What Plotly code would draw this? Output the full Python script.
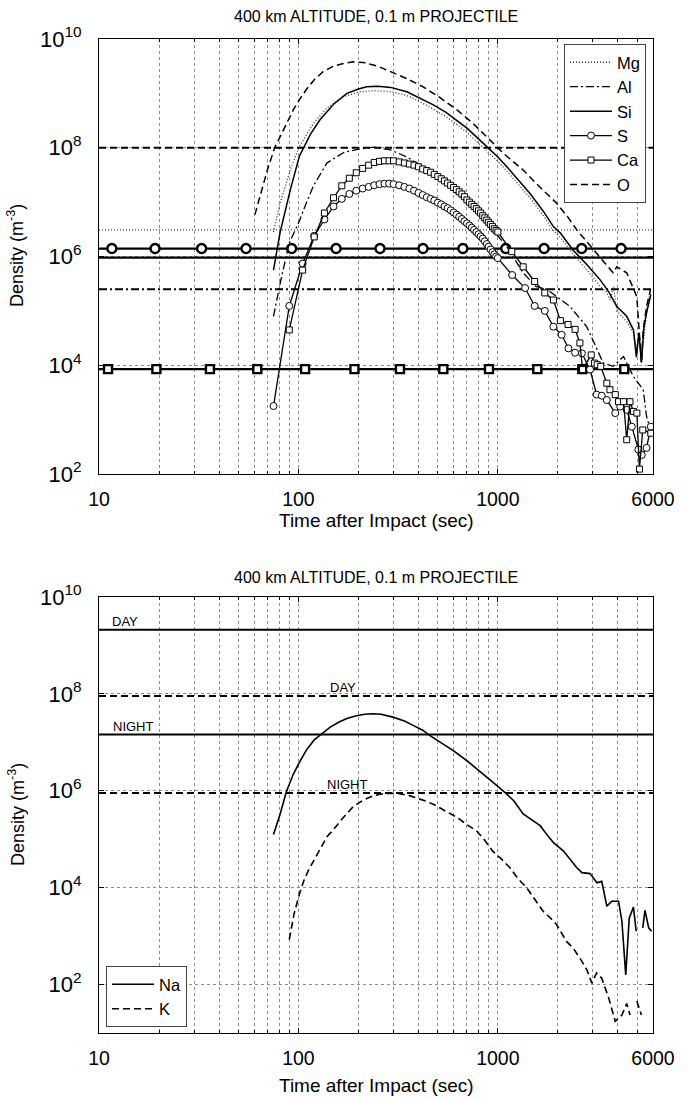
import math
import plotly.graph_objects as go

# ---------------- data: top panel (400 km, 0.1 m projectile) ----------------
t_mg = [75, 81, 91, 101, 119, 139, 168, 204, 246, 290, 350, 400, 475, 550, 622, 700, 846, 1000, 1110, 1300,
        1450, 1700, 1900, 2060, 2380, 2800, 3260, 3500, 3650, 3800, 3950, 4430, 4790, 4950, 5100, 5250, 5400, 5600, 5850]
log_mg = [6.45, 6.98, 7.59, 8.02, 8.45, 8.73, 8.94, 9.03, 9.05, 9.03, 8.96, 8.86, 8.71, 8.57, 8.43, 8.28, 8.00, 7.75,
          7.57, 7.27, 7.08, 6.74, 6.47, 6.35, 6.05, 5.75, 5.45, 5.35, 5.20, 5.45, 5.00, 4.80, 4.60, 4.30, 4.55, 4.20,
          4.50, 5.10, 5.35]

t_al = [75, 82, 90, 101, 110, 119, 139, 170, 204, 240, 290, 350, 422, 520, 622, 750, 914, 1110, 1340, 1550, 1760,
        2000, 2300, 2790, 3380, 3780, 4270, 4790, 5360, 5570, 5830]
log_al = [4.90, 5.60, 6.25, 6.65, 7.00, 7.30, 7.72, 7.92, 7.98, 8.01, 7.96, 7.83, 7.65, 7.40, 7.16, 6.88, 6.55, 6.18,
          5.70, 5.45, 5.40, 5.25, 5.08, 4.71, 4.04, 3.98, 4.16, 3.79, 3.55, 3.06, 2.81]

t_si = [75, 81, 91, 101, 115, 128, 150, 175, 200, 220, 250, 290, 350, 400, 475, 550, 622, 700, 846, 1000, 1110,
        1300, 1450, 1700, 1900, 2060, 2380, 2800, 3260, 3600, 3950, 4430, 4790, 4950, 5100, 5250, 5400, 5600, 5850]
log_si = [5.75, 6.45, 7.22, 7.84, 8.25, 8.51, 8.80, 9.00, 9.08, 9.12, 9.13, 9.11, 9.03, 8.93, 8.79, 8.65, 8.51, 8.36,
          8.08, 7.83, 7.65, 7.35, 7.16, 6.82, 6.55, 6.43, 6.12, 5.85, 5.57, 5.35, 5.08, 4.90, 4.65, 4.15, 4.60, 4.05,
          4.70, 5.00, 5.30]

t_s = [75, 90, 105, 120, 135, 150, 165, 180, 195, 210, 225, 240, 255, 270, 285, 300, 320, 340, 360, 380, 400, 420,
       440, 460, 480, 500, 520, 540, 560, 580, 600, 620, 640, 660, 680, 700, 720, 740, 760, 780, 800, 820, 840, 860,
       880, 900, 920, 940, 960, 980, 1000, 1180, 1370, 1530, 1720, 1900, 2090, 2260, 2440, 2640, 2900, 3130, 3320,
       3520, 3880, 4110, 4430, 4700, 5070, 5270, 5570, 5850]
log_s = [3.25, 5.09, 5.87, 6.38, 6.68, 6.92, 7.06, 7.15, 7.21, 7.25, 7.28, 7.31, 7.33, 7.34, 7.34, 7.33, 7.31, 7.28,
         7.25, 7.21, 7.17, 7.13, 7.09, 7.06, 7.03, 6.99, 6.96, 6.92, 6.89, 6.85, 6.81, 6.77, 6.73, 6.69, 6.65, 6.61,
         6.57, 6.53, 6.49, 6.45, 6.41, 6.37, 6.33, 6.28, 6.23, 6.18, 6.13, 6.08, 6.04, 6.00, 5.97, 5.66, 5.42, 5.09,
         5.00, 4.71, 4.56, 4.31, 4.23, 4.22, 3.92, 3.46, 3.44, 3.36, 3.12, 3.24, 3.18, 2.87, 2.45, 2.35, 2.48, 2.87]

t_ca = [90, 105, 120, 135, 150, 165, 180, 195, 210, 225, 240, 255, 270, 285, 300, 320, 340, 360, 380, 400, 420, 440,
        460, 480, 500, 520, 540, 560, 580, 600, 620, 640, 660, 680, 700, 720, 740, 760, 780, 800, 820, 840, 860, 880,
        900, 920, 940, 960, 980, 1000, 1175, 1340, 1530, 1720, 1900, 2060, 2250, 2440, 2580, 2660, 2940, 3050, 3150,
        3280, 3520, 3650, 3880, 4030, 4270, 4430, 4600, 4790, 4980, 5130, 5330, 5850]
log_ca = [4.65, 5.75, 6.36, 6.80, 7.08, 7.30, 7.44, 7.54, 7.62, 7.68, 7.73, 7.75, 7.76, 7.76, 7.76, 7.74, 7.72, 7.70,
          7.68, 7.65, 7.61, 7.58, 7.55, 7.51, 7.47, 7.43, 7.39, 7.35, 7.31, 7.27, 7.23, 7.19, 7.15, 7.10, 7.04, 7.00,
          6.96, 6.92, 6.88, 6.84, 6.80, 6.75, 6.71, 6.67, 6.63, 6.59, 6.55, 6.51, 6.48, 6.45, 6.09, 5.81, 5.54, 5.33,
          5.20, 4.82, 4.75, 4.66, 4.41, 3.92, 4.19, 4.04, 4.01, 3.98, 3.67, 3.55, 3.46, 3.33, 3.33, 2.63, 3.33, 3.15,
          3.12, 2.09, 2.81, 2.75]

t_o = [60.5, 66, 70, 76, 82, 87, 95, 101, 110, 120, 133, 150, 168, 188, 211, 250, 288, 350, 422, 500, 622, 750, 914,
       1064, 1340, 1600, 1972, 2250, 2489, 2900, 3258, 3500, 3784, 3948, 4430, 4977, 5250, 5360, 5566, 5830]
log_o = [6.77, 7.25, 7.60, 8.00, 8.25, 8.45, 8.72, 8.88, 9.08, 9.25, 9.40, 9.50, 9.55, 9.58, 9.57, 9.50, 9.40, 9.27,
         9.12, 8.95, 8.70, 8.45, 8.14, 7.90, 7.59, 7.30, 6.98, 6.72, 6.49, 6.20, 6.00, 5.85, 5.70, 5.81, 5.70, 5.26,
         4.04, 4.65, 5.08, 5.39]

# ambient (background) densities, top panel
bg_mg, bg_al, bg_si, bg_s, bg_ca, bg_o = 3.1e6, 2.5e5, 9.5e5, 1.4e6, 8.5e3, 1.0e8
t_bg_s_marks = [11.6, 19.1, 32.7, 54.6, 92.5, 154.5, 256.6, 421.5, 668, 1096, 1706, 2634, 4150]
t_bg_ca_marks = [11.1, 19.4, 36, 62.2, 108, 191, 323, 533, 903, 1578, 2654, 4306]

# ---------------- data: bottom panel ----------------
t_na = [75, 81, 87, 94, 101, 110, 120, 130, 145, 160, 175, 195, 215, 237, 260, 298, 340, 376, 420, 457, 520, 598,
        700, 810, 950, 1110, 1205, 1340, 1510, 1630, 1760, 1900, 2130, 2300, 2490, 2640, 2900, 3140, 3320, 3520,
        3730, 4030, 4190, 4380, 4560, 4790, 4940, 5100, 5330, 5470, 5710, 5900]
log_na = [5.10, 5.52, 5.98, 6.33, 6.58, 6.85, 7.05, 7.17, 7.32, 7.42, 7.49, 7.55, 7.58, 7.59, 7.58, 7.52, 7.44, 7.35,
          7.25, 7.14, 6.99, 6.83, 6.62, 6.41, 6.17, 5.93, 5.79, 5.52, 5.38, 5.28, 5.10, 4.93, 4.76, 4.58, 4.41, 4.31,
          4.29, 4.10, 4.13, 3.62, 3.72, 3.72, 3.31, 2.20, 3.37, 3.60, 3.10, None, 3.17, 3.53, 3.17, 3.10]

t_k = [90, 95, 101, 107, 113, 119, 130, 139, 150, 168, 189, 210, 235, 256, 290, 323, 360, 407, 440, 480, 530, 600,
       645, 700, 783, 860, 940, 1050, 1150, 1260, 1395, 1540, 1690, 1830, 1970, 2210, 2390, 2640, 2800, 2960, 3130,
       3320, 3600, 3880, 4190, 4430, 4600, 4800, 4980, 5250]
log_k = [2.93, 3.45, 3.86, 4.17, 4.38, 4.55, 4.82, 5.05, 5.20, 5.45, 5.68, 5.80, 5.89, 5.93, 5.95, 5.94, 5.90, 5.83,
         5.78, 5.71, 5.62, 5.49, 5.41, 5.30, 5.17, 4.98, 4.76, 4.58, 4.41, 4.19, 4.00, 3.75, 3.51, 3.38, 3.24, 2.89,
         2.75, 2.48, 2.30, 2.03, 2.24, 2.13, 1.72, 1.24, 1.37, 1.61, 1.37, None, 1.66, 1.37]

na_day, na_night, k_day, k_night = 2.1e9, 1.45e7, 9.0e7, 9.0e5

x_span = [10, 6000]
title_text = "400 km ALTITUDE, 0.1 m PROJECTILE"

# ---------------- figure ----------------
FONT = "Liberation Sans, Arial, sans-serif"
W, H = 688, 1099


def dens(vals):
    return [None if v is None else 10 ** v for v in vals]


DASH = "7px,4px"
DASHDOT = "8px,3px,2px,3px"
DOT = "1px,2px"

fig = go.Figure()


def hline(xax, yax, val, dash, width, color="black"):
    fig.add_trace(go.Scatter(x=x_span, y=[val, val], mode="lines", xaxis=xax, yaxis=yax,
                             line=dict(color=color, width=width, dash=dash), showlegend=False, hoverinfo="skip"))


# ambient lines (top)
hline("x", "y", bg_mg, DOT, 1.3, "#444")
hline("x", "y", bg_al, DASHDOT, 1.8)
hline("x", "y", bg_si, "solid", 2.2)
hline("x", "y", bg_s, "solid", 2.2)
hline("x", "y", bg_ca, "solid", 2.2)
hline("x", "y", bg_o, DASH, 2.2)
fig.add_trace(go.Scatter(x=t_bg_s_marks, y=[bg_s] * len(t_bg_s_marks), mode="markers", xaxis="x", yaxis="y",
                         marker=dict(symbol="circle", size=9, color="white", line=dict(color="black", width=2.4)),
                         showlegend=False, hoverinfo="skip"))
fig.add_trace(go.Scatter(x=t_bg_ca_marks, y=[bg_ca] * len(t_bg_ca_marks), mode="markers", xaxis="x", yaxis="y",
                         marker=dict(symbol="square", size=8, color="white", line=dict(color="black", width=2.4)),
                         showlegend=False, hoverinfo="skip"))

# curves (top)
fig.add_trace(go.Scatter(x=t_mg, y=dens(log_mg), mode="lines", name="Mg", xaxis="x", yaxis="y",
                         line=dict(color="#333", width=1.3, dash=DOT)))
fig.add_trace(go.Scatter(x=t_al, y=dens(log_al), mode="lines", name="Al", xaxis="x", yaxis="y",
                         line=dict(color="black", width=1.3, dash=DASHDOT)))
fig.add_trace(go.Scatter(x=t_si, y=dens(log_si), mode="lines", name="Si", xaxis="x", yaxis="y",
                         line=dict(color="black", width=1.5)))
fig.add_trace(go.Scatter(x=t_s, y=dens(log_s), mode="lines+markers", name="S", xaxis="x", yaxis="y",
                         line=dict(color="black", width=1.3),
                         marker=dict(symbol="circle", size=7, color="white", line=dict(color="black", width=1))))
fig.add_trace(go.Scatter(x=t_ca, y=dens(log_ca), mode="lines+markers", name="Ca", xaxis="x", yaxis="y",
                         line=dict(color="black", width=1.3),
                         marker=dict(symbol="square", size=6, color="white", line=dict(color="black", width=1))))
fig.add_trace(go.Scatter(x=t_o, y=dens(log_o), mode="lines", name="O", xaxis="x", yaxis="y",
                         line=dict(color="black", width=1.5, dash=DASH)))

# bottom panel
hline("x2", "y2", na_day, "solid", 2.0)
hline("x2", "y2", na_night, "solid", 2.0)
hline("x2", "y2", k_day, DASH, 2.0)
hline("x2", "y2", k_night, DASH, 2.0)
fig.add_trace(go.Scatter(x=t_na, y=dens(log_na), mode="lines", name="Na", xaxis="x2", yaxis="y2", legend="legend2",
                         line=dict(color="black", width=1.6), connectgaps=False))
fig.add_trace(go.Scatter(x=t_k, y=dens(log_k), mode="lines", name="K", xaxis="x2", yaxis="y2", legend="legend2",
                         line=dict(color="black", width=1.6, dash=DASH), connectgaps=False))

# axes
x_dom = [99 / W, 653 / W]
top_dom = [1 - 474 / H, 1 - 39 / H]
bot_dom = [1 - 1033 / H, 1 - 597 / H]
minor_x = [20, 30, 40, 50, 60, 70, 80, 90, 200, 300, 400, 500, 600, 700, 800, 900, 2000, 3000, 4000, 5000]
GRID = "#8c8c8c"


def xaxis_cfg(anchor):
    return dict(type="log", domain=x_dom, anchor=anchor, range=[1, math.log10(6000)],
                tickmode="array", tickvals=[10, 100, 1000, 6000], ticktext=["10", "100", "1000", "6000"],
                showgrid=True, gridcolor=GRID, griddash="dot", gridwidth=1,
                minor=dict(tickmode="array", tickvals=minor_x, showgrid=True, gridcolor=GRID, griddash="dot",
                           gridwidth=1, ticks="inside", ticklen=3, tickcolor="black"),
                ticks="inside", ticklen=5, tickcolor="black", showline=True, linecolor="black", linewidth=1,
                mirror="ticks", zeroline=False, automargin=False, ticklabelstandoff=8,
                tickfont=dict(family=FONT, size=19.5, color="black"))


def yaxis_cfg(anchor, rng):
    vals = [1e2, 1e4, 1e6, 1e8, 1e10]
    return dict(type="log", anchor=anchor, range=rng, tickmode="array", tickvals=vals,
                ticktext=["10<sup>%d</sup>" % round(math.log10(v)) for v in vals],
                showgrid=True, gridcolor=GRID, griddash="dot", gridwidth=1,
                ticks="inside", ticklen=5, tickcolor="black", showline=True, linecolor="black", linewidth=1,
                mirror="ticks", zeroline=False, automargin=False, ticklabelstandoff=12,
                tickfont=dict(family=FONT, size=22, color="black"))


fig.update_layout(
    width=W, height=H, margin=dict(l=0, r=0, t=0, b=0),
    paper_bgcolor="white", plot_bgcolor="white",
    font=dict(family=FONT, color="black"),
    xaxis=xaxis_cfg("y"), yaxis=dict(yaxis_cfg("x", [2, 10]), domain=top_dom),
    xaxis2=xaxis_cfg("y2"), yaxis2=dict(yaxis_cfg("x2", [1, 10]), domain=bot_dom),
    legend=dict(x=646 / W, xanchor="right", y=1 - 44 / H, yanchor="top", bgcolor="white",
                bordercolor="#444", borderwidth=1, font=dict(family=FONT, size=16.5, color="black"),
                tracegroupgap=0, itemwidth=42),
    legend2=dict(x=106 / W, xanchor="left", y=1 - 1027 / H, yanchor="bottom", bgcolor="white",
                 bordercolor="#444", borderwidth=1, font=dict(family=FONT, size=16.5, color="black"),
                 tracegroupgap=0, itemwidth=42),
    showlegend=True,
)

ann = []
for yc in (17, 577):
    ann.append(dict(text=title_text, xref="paper", yref="paper", x=376 / W, y=1 - yc / H, xanchor="center",
                    yanchor="middle", showarrow=False, font=dict(family=FONT, size=16, color="black")))
for yc in (520, 1085):
    ann.append(dict(text="Time after Impact (sec)", xref="paper", yref="paper", x=376 / W, y=1 - yc / H,
                    xanchor="center", yanchor="middle", showarrow=False,
                    font=dict(family=FONT, size=19, color="black")))
for yc in (256, 815):
    ann.append(dict(text="Density (m<sup>-3</sup>)", xref="paper", yref="paper", x=16 / W, y=1 - yc / H,
                    xanchor="center", yanchor="middle", textangle=-90, showarrow=False,
                    font=dict(family=FONT, size=18, color="black")))

labels = [("DAY", 11.3, na_day), ("NIGHT", 11.5, na_night), ("DAY", 141, k_day), ("NIGHT", 136, k_night)]
for txt, tx, val in labels:
    ann.append(dict(text=txt, xref="x2", yref="y2", x=math.log10(tx), y=math.log10(val), xanchor="left",
                    yanchor="bottom", showarrow=False, yshift=-1,
                    font=dict(family=FONT, size=13, color="black")))
fig.update_layout(annotations=ann)

fig.write_html("out.html")
